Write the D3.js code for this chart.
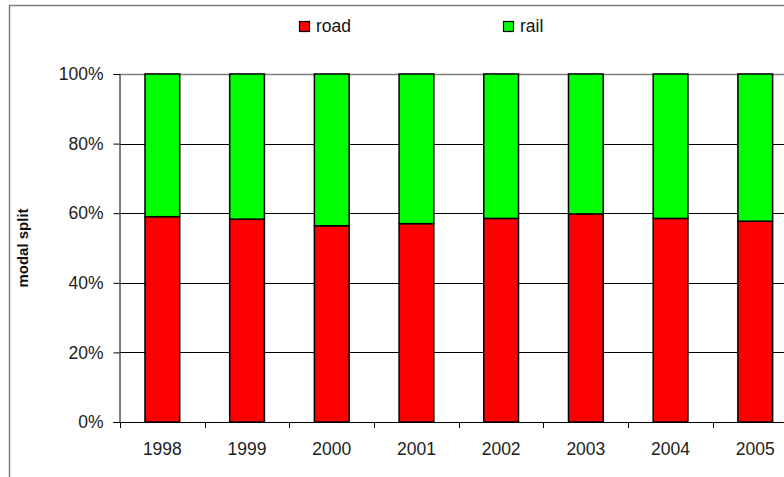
<!DOCTYPE html>
<html>
<head>
<meta charset="utf-8">
<script src="https://cdn.jsdelivr.net/npm/d3@7"></script>
<style>
  body { margin: 0; background: #fff; }
  svg { display: block; font-family: "Liberation Sans", Arial, sans-serif; }
</style>
</head>
<body>
<div id="chart"></div>
<script>
const years = ["1998", "1999", "2000", "2001", "2002", "2003", "2004", "2005"]
const road = [59.0, 58.3, 56.4, 57.0, 58.5, 59.8, 58.5, 57.7]
const rail = road.map(v => 100 - v)
const yTicks = [0, 20, 40, 60, 80, 100]
const seriesNames = ["road", "rail"]
const seriesColors = ["#ff0000", "#00ff00"]

const W = 784, H = 477
const plot = { left: 120, top: 74, bottom: 422, right: 120 + 8 * 84.7 }

const table = years.map((y, i) => ({ year: y, road: road[i], rail: rail[i] }))
const stacked = d3.stack().keys(seriesNames)(table)

const x = d3.scaleBand()
  .domain(years)
  .range([plot.left, plot.right])
  .paddingInner(0.59)
  .paddingOuter(0.295)

const y = d3.scaleLinear()
  .domain([0, 100])
  .range([plot.bottom, plot.top])

const color = d3.scaleOrdinal().domain(seriesNames).range(seriesColors)

const svg = d3.select("#chart").append("svg")
  .attr("width", W)
  .attr("height", H)

// outer frame (cut by the window on the right and bottom)
svg.append("path")
  .attr("d", `M9.5,${H} V5.5 H${W}`)
  .attr("fill", "none")
  .attr("stroke", "#808080")
  .attr("stroke-width", 1.5)

// gridlines
svg.append("g")
  .selectAll("line")
  .data(yTicks.filter(d => d > 0))
  .enter().append("line")
    .attr("x1", plot.left)
    .attr("x2", W)
    .attr("y1", d => Math.round(y(d)) + 0.5)
    .attr("y2", d => Math.round(y(d)) + 0.5)
    .attr("stroke", d => d === 100 ? "#808080" : "#000")
    .attr("stroke-width", d => d === 100 ? 1.5 : 1)

// bars
svg.append("g")
  .selectAll("g")
  .data(stacked)
  .enter().append("g")
    .attr("fill", d => color(d.key))
    .selectAll("rect")
    .data(d => d)
    .enter().append("rect")
      .attr("x", d => x(d.data.year))
      .attr("y", d => y(d[1]))
      .attr("width", x.bandwidth())
      .attr("height", d => y(d[0]) - y(d[1]))
      .attr("stroke", "#000")
      .attr("stroke-width", 1.5)

// y axis
const yAxis = svg.append("g")
  .attr("transform", `translate(${plot.left - 0.5},0)`)
  .call(d3.axisLeft(y).tickValues(yTicks).tickFormat(d => d + "%").tickSize(6).tickPadding(10))
yAxis.select(".domain").attr("stroke", "#000")
yAxis.selectAll(".tick line").attr("stroke", "#000")
yAxis.selectAll("text")
  .attr("font-size", "17.5px")
  .attr("font-family", "Liberation Sans, Arial, sans-serif")
  .attr("fill", "#222")

// x axis: baseline, ticks at category boundaries, labels centered
const xg = svg.append("g")
xg.append("line")
  .attr("x1", plot.left).attr("x2", W)
  .attr("y1", plot.bottom + 0.5).attr("y2", plot.bottom + 0.5)
  .attr("stroke", "#000")
const step = x.step()
xg.selectAll(".xt")
  .data(years)
  .enter().append("line")
    .attr("class", "xt")
    .attr("x1", d => Math.round(x(d) - x.bandwidth() * 0.72) + 0.5)
    .attr("x2", d => Math.round(x(d) - x.bandwidth() * 0.72) + 0.5)
    .attr("y1", plot.bottom)
    .attr("y2", plot.bottom + 6)
    .attr("stroke", "#000")
xg.selectAll("text")
  .data(years)
  .enter().append("text")
    .attr("x", d => x(d) + x.bandwidth() / 2)
    .attr("y", 455)
    .attr("text-anchor", "middle")
    .attr("font-size", "17.5px")
    .attr("fill", "#222")
    .text(d => d)

// y label
svg.append("text")
  .attr("transform", `translate(28,${(plot.top + plot.bottom) / 2}) rotate(-90)`)
  .attr("text-anchor", "middle")
  .attr("font-size", "15px")
  .attr("font-weight", "bold")
  .attr("fill", "#111")
  .text("modal split")

// legend
const legendX = [299, 503]
const legend = svg.append("g")
seriesNames.forEach((name, i) => {
  legend.append("rect")
    .attr("x", legendX[i] + 0.5)
    .attr("y", 21.5)
    .attr("width", 10)
    .attr("height", 10)
    .attr("fill", seriesColors[i])
    .attr("stroke", "#000")
    .attr("stroke-width", 1.2)
  legend.append("text")
    .attr("x", legendX[i] + 17)
    .attr("y", 32)
    .attr("font-size", "17.5px")
    .attr("fill", "#111")
    .text(name)
})
</script>
</body>
</html>
